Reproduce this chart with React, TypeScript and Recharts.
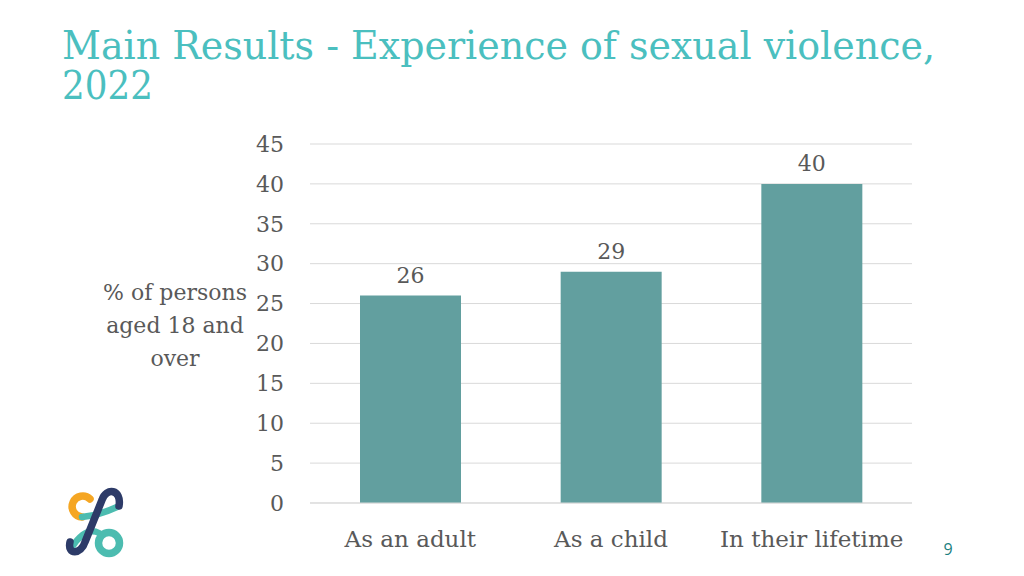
import React from "react";
import { BarChart, Bar, XAxis, YAxis, CartesianGrid, LabelList } from "recharts";

const categories = ["As an adult", "As a child", "In their lifetime"];
const values = [26, 29, 40];
const yTicks = [0, 5, 10, 15, 20, 25, 30, 35, 40, 45];

const data = categories.map((c, i) => ({ name: c, value: values[i] }));

const FONT = "'DejaVu Serif', serif";
const GRAY = "#595959";
const TEAL = "#4bbfbf";

export default function App() {
  return (
    <div style={{ position: "absolute", left: 0, top: 0, width: 1024, height: 576, background: "#fff", overflow: "hidden" }}>
      <svg width={1024} height={130} style={{ position: "absolute", left: 0, top: 0 }}>
        <text x={62} y={59} fill={TEAL} fontFamily={FONT} fontSize={39} textLength={873} lengthAdjust="spacingAndGlyphs">
          Main Results - Experience of sexual violence,
        </text>
        <text x={62} y={99} fill={TEAL} fontFamily={FONT} fontSize={39} textLength={91} lengthAdjust="spacingAndGlyphs">
          2022
        </text>
      </svg>
      <div style={{ position: "absolute", left: 0, top: 0 }}>
        <BarChart width={1024} height={576} data={data} margin={{ top: 144, right: 112, bottom: 43, left: 250 }} barCategoryGap={50}>
          <CartesianGrid vertical={false} stroke="#d9d9d9" />
          <XAxis
            dataKey="name"
            height={30}
            axisLine={{ stroke: "#d9d9d9" }}
            tickLine={false}
            tickSize={0}
            tickMargin={28}
            tick={{ fill: GRAY, fontFamily: FONT, fontSize: 23 }}
          />
          <YAxis
            width={60}
            domain={[0, 45]}
            ticks={yTicks}
            interval={0}
            axisLine={false}
            tickLine={false}
            tickSize={0}
            tickMargin={26}
            tick={{ fill: GRAY, fontFamily: FONT, fontSize: 22 }}
          />
          <Bar dataKey="value" fill="#629f9f" isAnimationActive={false}>
            <LabelList dataKey="value" position="top" offset={13} fill={GRAY} fontFamily={FONT} fontSize={22} />
          </Bar>
        </BarChart>
      </div>
      <svg width={1024} height={576} style={{ position: "absolute", left: 0, top: 0, pointerEvents: "none" }}>
        <g fill={GRAY} fontFamily={FONT} fontSize={22} textAnchor="middle">
          <text x={175} y={300}>% of persons</text>
          <text x={175} y={333}>aged 18 and</text>
          <text x={175} y={366}>over</text>
        </g>
        <text x={948} y={555} fill="#1a8080" fontFamily="'Open Sans', sans-serif" fontSize={16} textAnchor="middle">9</text>
        <g fill="none" strokeLinecap="round">
          <path d="M 90 499 A 10.5 10.5 0 1 0 82 517" stroke="#f5a623" strokeWidth={7.5} />
          <path d="M 82 517 Q 100 515 117 507" stroke="#4cbcb0" strokeWidth={6.5} />
          <path d="M 72 547 Q 86 526 99 533" stroke="#4cbcb0" strokeWidth={6.5} />
          <path d="M 119 506 C 122 489 106 487 102 500 L 85 542 C 81 555 67 555 70 542" stroke="#2d3b68" strokeWidth={7.5} />
          <circle cx={109} cy={543} r={10.5} stroke="#4cbcb0" strokeWidth={7.5} />
        </g>
      </svg>
    </div>
  );
}
